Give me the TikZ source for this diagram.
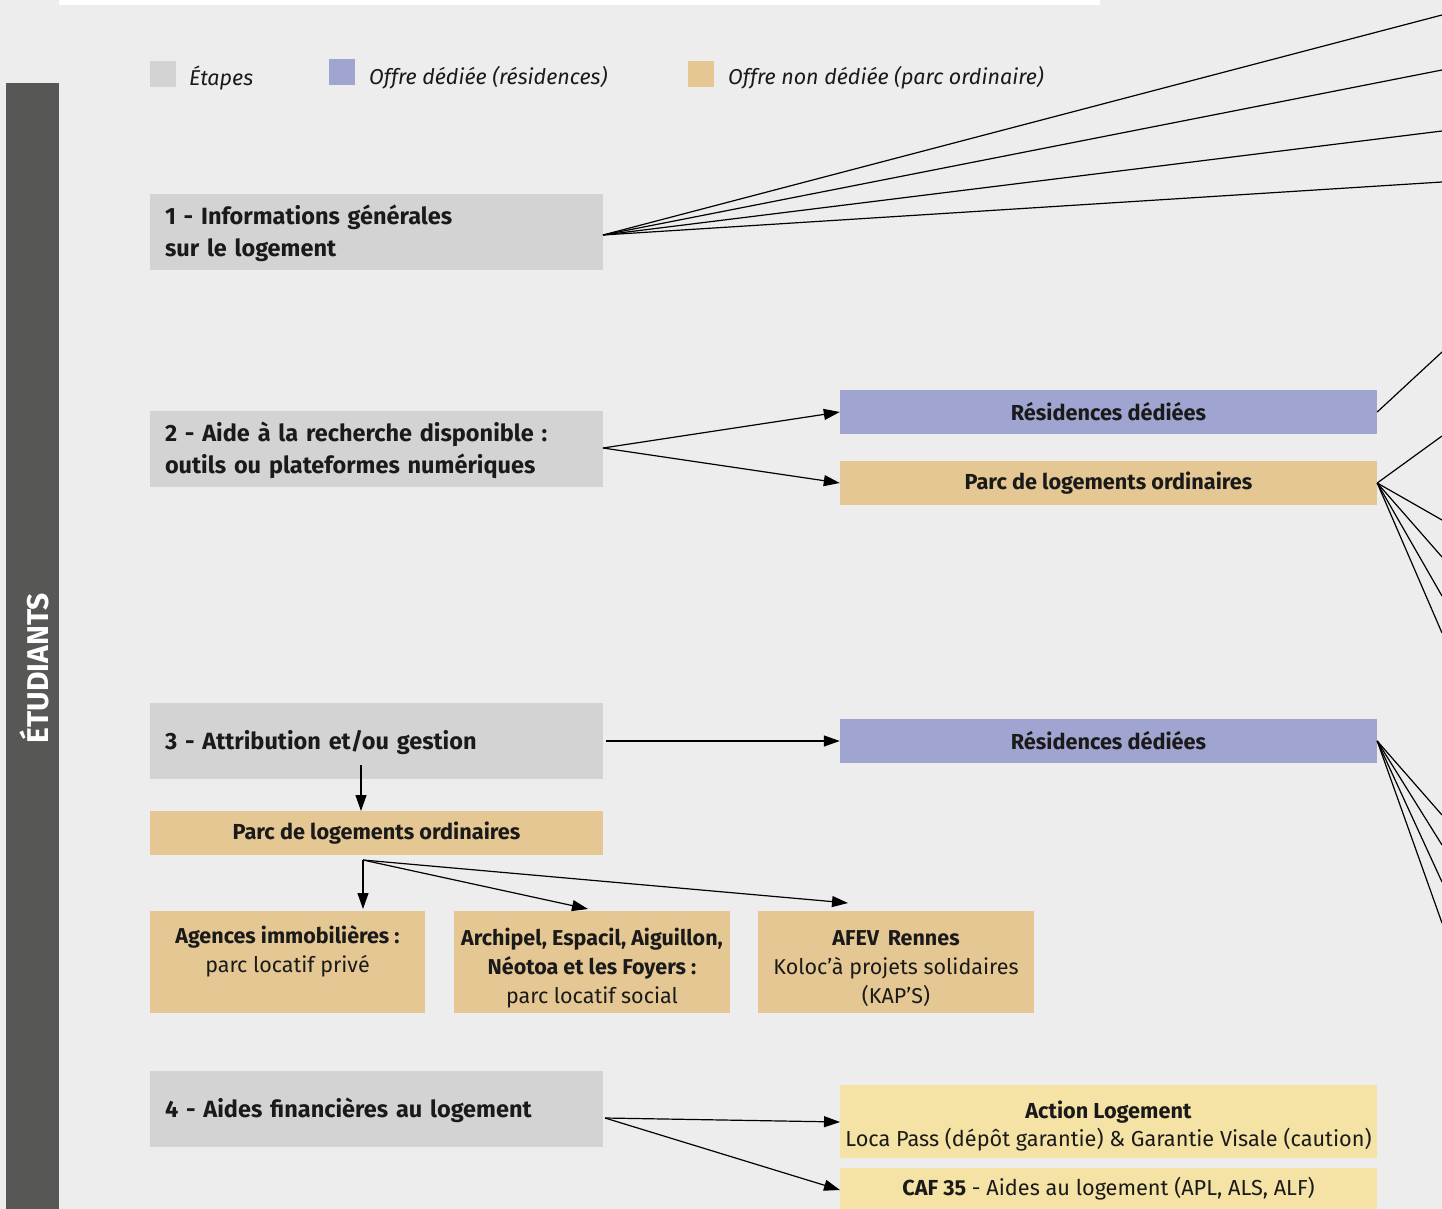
\documentclass[tikz,border=0pt]{standalone}
\usepackage{fontspec}
\setmainfont{Fira Sans}
\usetikzlibrary{arrows.meta}
\definecolor{bgc}{HTML}{EDEDED}
\definecolor{darkbar}{HTML}{575755}
\definecolor{stepc}{HTML}{D3D3D3}
\definecolor{dedc}{HTML}{A0A4D0}
\definecolor{ordc}{HTML}{E4C792}
\definecolor{aidc}{HTML}{F5E3A5}
\definecolor{inkc}{HTML}{1A1A1A}
\newcommand{\toppad}[1]{\rule{0pt}{#1}}
\begin{document}
\begin{tikzpicture}[x=1pt,y=-1pt,
  stepbox/.style={fill=stepc, draw=none, inner xsep=15pt, inner ysep=0pt,
    minimum width=453pt, minimum height=76pt, text width=423pt, align=left,
    font=\fontsize{23.5}{32}\selectfont\bfseries, text=inkc},
  offbox/.style={draw=none, inner sep=0pt, minimum width=537pt, minimum height=44pt,
    align=center, font=\fontsize{21.7}{29}\selectfont\bfseries, text=inkc},
  smallbox/.style={fill=ordc, draw=none, inner sep=0pt, minimum width=276pt,
    minimum height=102pt, align=center, font=\fontsize{21.5}{29}\selectfont, text=inkc},
  legsq/.style={draw=none, inner sep=0pt, minimum size=26pt},
  legtxt/.style={anchor=west, inner sep=0pt, font=\fontsize{21.5}{26}\selectfont\itshape, text=inkc},
  conn/.style={draw=black, line width=1.2pt},
  arr/.style={conn, -{Triangle[length=16pt,width=11pt]}}
]
\useasboundingbox (0,0) rectangle (1442,1209);
\fill[bgc] (0,0) rectangle (1442,1209);
\fill[white] (59,0) rectangle (1100,5);
\fill[darkbar] (6,83) rectangle (59,1209);
\node[rotate=90, text=white, inner sep=0pt, font=\fontsize{30}{30}\selectfont\bfseries] (etud) at (34,668) {ÉTUDIANTS};

% legend
\node[legsq, fill=stepc] (lg1) at (163,74) {};
\node[legtxt] (lt1) at (189,78) {Étapes};
\node[legsq, fill=dedc] (lg2) at (341.5,72.5) {};
\node[legtxt] (lt2) at (369,78) {Offre dédiée (résidences)};
\node[legsq, fill=ordc] (lg3) at (700.5,74) {};
\node[legtxt] (lt3) at (728,78) {Offre non dédiée (parc ordinaire)};

% steps
\node[stepbox] (b1) at (376.5,232) {\toppad{22pt}1 - Informations générales\\sur le logement};
\node[stepbox] (b2) at (376.5,449) {\toppad{22pt}2 - Aide à la recherche disponible :\\outils ou plateformes numériques};
\node[stepbox] (b3) at (376.5,741) {\toppad{22pt}3 - Attribution et/ou gestion};
\node[stepbox] (b4) at (376.5,1109) {\toppad{22pt}4 - Aides financières au logement};

% offers
\node[offbox, fill=dedc] (res2) at (1108.5,412) {Résidences dédiées};
\node[offbox, fill=ordc] (parc2) at (1108.5,483) {Parc de logements ordinaires};
\node[offbox, fill=dedc] (res3) at (1108.5,741) {Résidences dédiées};
\node[offbox, fill=ordc, minimum width=453pt] (parc3) at (376.5,833) {Parc de logements ordinaires};

\node[smallbox, minimum width=275pt] (ag) at (287.5,962) {\toppad{29pt}\textbf{Agences immobilières :}\\parc locatif privé\\\strut};
\node[smallbox] (arch) at (592,962) {\toppad{29pt}\textbf{Archipel, Espacil, Aiguillon,}\\\textbf{Néotoa et les Foyers :}\\parc locatif social};
\node[smallbox] (afev) at (896,962) {\toppad{29pt}\textbf{AFEV\, Rennes}\\Koloc’à projets solidaires\\(KAP’S)};

\node[offbox, fill=aidc, minimum height=73pt, font=\fontsize{21.7}{28}\selectfont] (act) at (1108.5,1121.5) {\toppad{26pt}\textbf{Action Logement}\\Loca Pass (dépôt garantie) \& Garantie Visale (caution)};
\node[offbox, fill=aidc, minimum height=41pt, font=\fontsize{21.7}{28}\selectfont] (caf) at (1108.5,1188.5) {\textbf{CAF 35} - Aides au logement (APL, ALS, ALF)};

% coordinates
\coordinate (s1) at (603,235);
\coordinate (r1) at (1442,15);
\coordinate (r2) at (1442,70);
\coordinate (r3) at (1442,131);
\coordinate (r4) at (1442,182);
\coordinate (s2) at (603,448);
\coordinate (rr1) at (1442,352);
\coordinate (rp1) at (1442,436);
\coordinate (rp2) at (1442,520);
\coordinate (rp3) at (1442,557);
\coordinate (rp4) at (1442,596);
\coordinate (rp5) at (1442,633);
\coordinate (rs1) at (1442,815);
\coordinate (rs2) at (1442,845);
\coordinate (rs3) at (1442,882);
\coordinate (rs4) at (1442,923);
\coordinate (s3) at (606,741);
\coordinate (s3d) at (361,765);
\coordinate (s3e) at (361,811);
\coordinate (sp) at (363,860);
\coordinate (ta) at (363,909);
\coordinate (tb) at (588,909);
\coordinate (tc) at (848,903);
\coordinate (s4) at (605,1118);
\coordinate (t4a) at (840,1122);
\coordinate (t4b) at (840,1190);

% connectors
\foreach \r in {r1,r2,r3,r4} \draw[conn] (s1) -- (\r);
\draw[arr] (s2) -- (res2.west);
\draw[arr] (s2) -- (parc2.west);
\draw[conn] (res2.east) -- (rr1);
\foreach \r in {rp1,rp2,rp3,rp4,rp5} \draw[conn] (parc2.east) -- (\r);
\draw[arr] (s3) -- (res3.west);
\foreach \r in {rs1,rs2,rs3,rs4} \draw[conn] (res3.east) -- (\r);
\draw[arr] (s3d) -- (s3e);
\draw[arr] (sp) -- (ta);
\draw[arr] (sp) -- (tb);
\draw[arr] (sp) -- (tc);
\draw[arr] (s4) -- (t4a);
\draw[arr] (s4) -- (t4b);
\end{tikzpicture}
\end{document}
